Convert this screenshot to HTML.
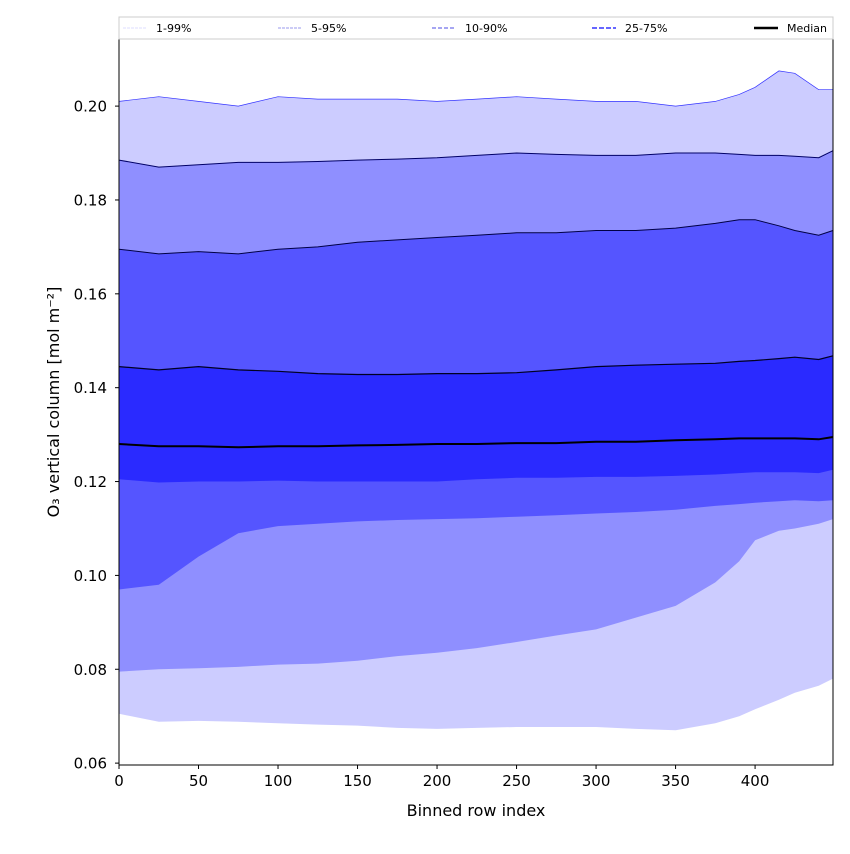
<!DOCTYPE html>
<html><head><meta charset="utf-8"><style>
body{margin:0;background:#fff;font-family:"DejaVu Sans","Liberation Sans",sans-serif}
text{font-family:"DejaVu Sans","Liberation Sans",sans-serif}
</style></head><body>
<svg id="c" width="850" height="850" xmlns="http://www.w3.org/2000/svg"></svg>
<script>
const xs      = [0,25,50,75,100,125,150,175,200,225,250,275,300,325,350,375,390,400,415,425,440,449];
const p99     = [0.201,0.202,0.201,0.200,0.202,0.2015,0.2015,0.2015,0.201,0.2015,0.202,0.2015,0.201,0.201,0.200,0.201,0.2025,0.204,0.2075,0.207,0.2035,0.2035];
const p95     = [0.1885,0.187,0.1875,0.188,0.188,0.1882,0.1885,0.1887,0.189,0.1895,0.190,0.1897,0.1895,0.1895,0.190,0.190,0.1897,0.1895,0.1895,0.1893,0.189,0.1905];
const p90     = [0.1695,0.1685,0.169,0.1685,0.1695,0.170,0.171,0.1715,0.172,0.1725,0.173,0.173,0.1735,0.1735,0.174,0.175,0.1758,0.1758,0.1745,0.1735,0.1725,0.1735];
const p75     = [0.1445,0.1438,0.1445,0.1438,0.1435,0.143,0.1428,0.1428,0.143,0.143,0.1432,0.1438,0.1445,0.1448,0.145,0.1452,0.1456,0.1458,0.1462,0.1465,0.146,0.1468];
const median  = [0.128,0.1275,0.1275,0.1273,0.1275,0.1275,0.1277,0.1278,0.128,0.128,0.1282,0.1282,0.1285,0.1285,0.1288,0.129,0.1292,0.1292,0.1292,0.1292,0.129,0.1295];
const p25     = [0.1205,0.1198,0.120,0.120,0.1202,0.120,0.120,0.120,0.120,0.1205,0.1208,0.1208,0.121,0.121,0.1212,0.1215,0.1218,0.122,0.122,0.122,0.1218,0.1225];
const p10     = [0.097,0.098,0.104,0.109,0.1105,0.111,0.1115,0.1118,0.112,0.1122,0.1125,0.1128,0.1132,0.1135,0.114,0.1148,0.1152,0.1155,0.1158,0.116,0.1158,0.116];
const p5      = [0.0795,0.080,0.0802,0.0805,0.081,0.0812,0.0818,0.0828,0.0835,0.0845,0.0858,0.0872,0.0885,0.091,0.0935,0.0985,0.103,0.1075,0.1095,0.110,0.111,0.112];
const p1      = [0.0705,0.0688,0.069,0.0688,0.0685,0.0682,0.068,0.0675,0.0673,0.0675,0.0677,0.0677,0.0677,0.0673,0.067,0.0685,0.070,0.0715,0.0735,0.075,0.0765,0.078];
const xTicks  = [0,50,100,150,200,250,300,350,400];
const yTicks  = [0.06,0.08,0.10,0.12,0.14,0.16,0.18,0.20];

const L=119,R=833,T=39,B=765,XMAX=449,YMIN=0.0596,YMAX=0.2143;
const X=v=>L+(v/XMAX)*(R-L);
const Y=v=>B-(v-YMIN)/(YMAX-YMIN)*(B-T);
const svg=document.getElementById('c');
const NS='http://www.w3.org/2000/svg';
function mk(tag,attrs,parent){const e=document.createElementNS(NS,tag);for(const k in attrs)e.setAttribute(k,attrs[k]);(parent||svg).appendChild(e);return e;}
function pts(a){return xs.map((x,i)=>X(x).toFixed(1)+','+Y(a[i]).toFixed(1));}
function band(hi,lo,fill,name){
  const d='M'+pts(hi).join('L')+'L'+pts(lo).reverse().join('L')+'Z';
  const e=mk('path',{d:d,fill:fill,stroke:'none'});
  
  
}
function line(a,col,w,name){
  const e=mk('path',{d:'M'+pts(a).join('L'),fill:'none',stroke:col,'stroke-width':w});
  
  
}
band(p99,p1,'#ccccff','band-1-99');
band(p95,p5,'#8f8fff','band-5-95');
band(p90,p10,'#5555ff','band-10-90');
band(p75,p25,'#2a2aff','band-25-75');
line(p99,'#3333ff',0.7,'line-p99');
line(p95,'#000066',1,'line-p95');
line(p90,'#000044',1,'line-p90');
line(p75,'#000022',1.2,'line-p75');
line(median,'#000',2,'median-line');

const frame=mk('rect',{x:L,y:T,width:R-L,height:B-T,fill:'none',stroke:'#000','stroke-width':1});



xTicks.forEach(v=>{
  const tk=mk('line',{x1:X(v),x2:X(v),y1:B,y2:B+4,stroke:'#000'});
  
  
  const t=mk('text',{x:X(v),y:B+21,'font-size':15,'text-anchor':'middle'});
  t.textContent=v;
  
  
});
yTicks.forEach(v=>{
  const tk=mk('line',{x1:L-4,x2:L,y1:Y(v),y2:Y(v),stroke:'#000'});
  
  
  const t=mk('text',{x:L-12,y:Y(v)+5.5,'font-size':15,'text-anchor':'end'});
  t.textContent=v.toFixed(2);
  
  
});
const xl=mk('text',{x:(L+R)/2,y:816,'font-size':16,'text-anchor':'middle'});
xl.textContent='Binned row index';


const yl=mk('text',{x:0,y:0,'font-size':16,'text-anchor':'middle',transform:'translate(59,402) rotate(-90)'});
yl.textContent='O₃ vertical column [mol m⁻²]';



// legend
const lg=mk('g',{});


mk('rect',{x:119,y:17,width:714,height:22,fill:'#fff',stroke:'#ccc','stroke-width':1},lg);
const legItems=[['1-99%',123,'#ddddff','3,1',1],['5-95%',278,'#9999ee','3,1',1],['10-90%',432,'#8888ee','4,2',1.5],['25-75%',592,'#6666ff','5,2',2],['Median',754,'#000','',2.5]];
legItems.forEach(it=>{
  const g=mk('g',{},lg);
  
  
  const a={x1:it[1],x2:it[1]+24,y1:28,y2:28,stroke:it[2],'stroke-width':it[4]};
  if(it[3])a['stroke-dasharray']=it[3];
  mk('line',a,g);
  const t=mk('text',{x:it[1]+33,y:32,'font-size':11},g);
  t.textContent=it[0];
});
</script>
</body></html>
